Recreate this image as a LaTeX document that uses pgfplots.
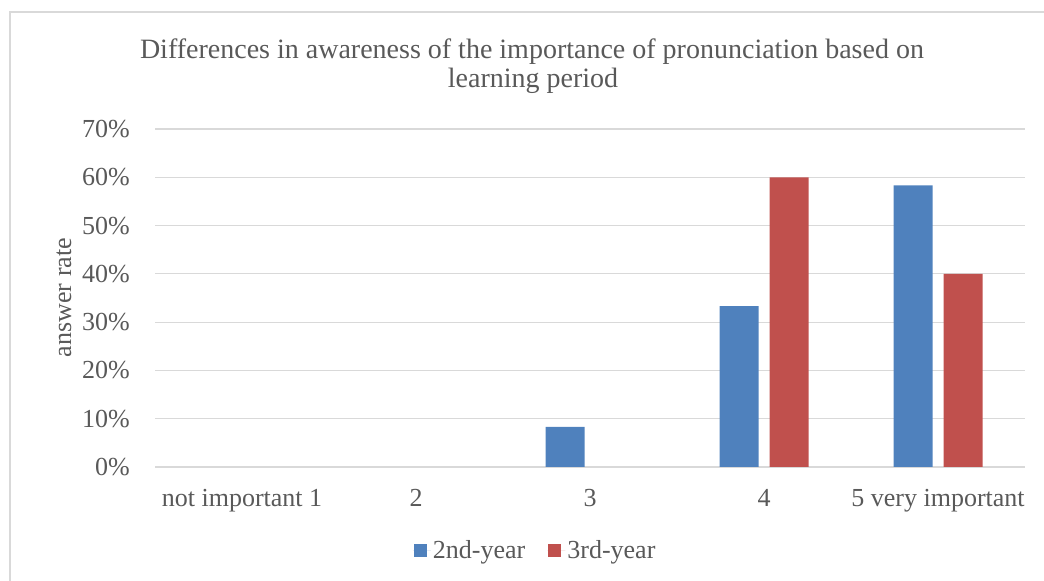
\documentclass[border=0pt]{standalone}
\usepackage{pgfplots}
\pgfplotsset{compat=1.18}
\usepackage{fontspec}
\setmainfont{Liberation Serif}
\definecolor{txt}{HTML}{595959}
\definecolor{grd}{HTML}{D9D9D9}
\definecolor{b1}{HTML}{4F81BD}
\definecolor{r1}{HTML}{C0504D}
\pgfplotsset{sqlegend/.style={legend image code/.code={\path (-1bp,0bp) -- (17bp,0bp);\fill[##1] (0bp,-6.5bp) rectangle (13bp,6.5bp);}}}
\begin{document}
\begin{tikzpicture}[x=1bp,y=1bp]
\path[use as bounding box] (0,0) rectangle (1044,581);
\draw[grd, line width=1.3bp] (10,0) -- (10,569) -- (1044,569);
\begin{axis}[
  at={(155bp,114bp)}, anchor=south west, scale only axis,
  width=870bp, height=338bp,
  ybar=11bp, bar width=39bp,
  xmin=-0.5, xmax=4.5, ymin=0, ymax=70,
  xtick={0,1,2,3,4},
  xticklabels={not important 1,2,3,4,5 very important},
  ytick={0,10,...,70},
  yticklabel={\pgfmathprintnumber{\tick}\%},
  /pgf/number format/assume math mode=true,
  axis line style={draw=none},
  major tick length=0pt,
  ymajorgrids, grid style={grd, line width=1.2bp},
  tick label style={text=txt, font=\fontsize{26bp}{30bp}\selectfont},
  yticklabel style={anchor=east, inner sep=0pt, xshift=-25bp},
  xticklabel style={anchor=base, inner sep=0pt, yshift=-40bp},
  y filter/.expression={y==0 ? nan : y},
  unbounded coords=discard,
  legend style={at={(0.437,-0.2456)}, anchor=center, draw=none, fill=none,
    legend columns=2, font=\fontsize{26bp}{30bp}\selectfont, text=txt,
    /tikz/every even column/.append style={column sep=20bp}},
]
\addplot[fill=b1, draw=none, sqlegend]
  coordinates {(0,0) (1,0) (2,8.33) (3,33.33) (4,58.33)};
\addplot[fill=r1, draw=none, sqlegend]
  coordinates {(0,0) (1,0) (2,0) (3,60) (4,40)};
\legend{2nd-year,3rd-year}
\end{axis}
\node[anchor=base, text=txt, font=\fontsize{28bp}{34bp}\selectfont] at (532,522) {Differences in awareness of the importance of pronunciation based on};
\node[anchor=base, text=txt, font=\fontsize{28bp}{34bp}\selectfont] at (533,493) {learning period};
\node[rotate=90, anchor=base, text=txt, font=\fontsize{26bp}{30bp}\selectfont] at (71,283.5) {answer rate};
\end{tikzpicture}
\end{document}
